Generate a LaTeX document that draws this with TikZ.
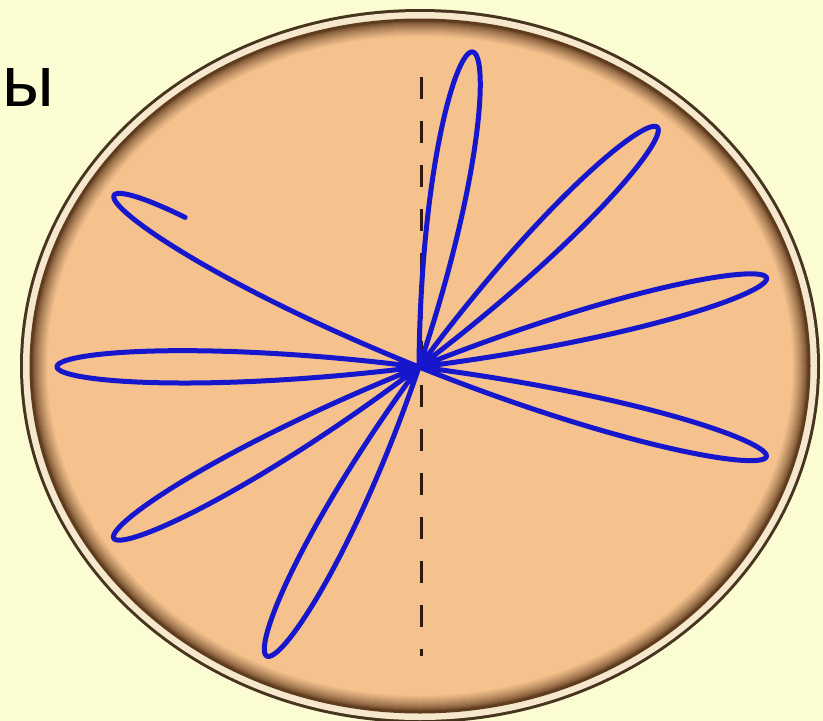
\documentclass[tikz,border=0pt]{standalone}
\usepackage{fontspec}
\setmainfont{Liberation Sans}
\definecolor{bgyellow}{RGB}{252,252,210}
\definecolor{peach}{RGB}{245,194,142}
\definecolor{rimdark}{RGB}{70,52,30}
\definecolor{rimlight}{RGB}{245,232,205}
\definecolor{rimbrown}{RGB}{95,60,30}
\definecolor{pathblue}{RGB}{22,22,205}
\definecolor{dashcol}{RGB}{50,25,15}
\tikzset{
  trajectory/.style={draw=pathblue, line width=5pt, line join=round, line cap=round},
  planeline/.style={draw=dashcol, line width=3pt, dash pattern=on 22pt off 22pt},
  caption/.style={font=\fontsize{72}{72}\selectfont, inner sep=0pt, anchor=base west, text=black}
}
\begin{document}
\begin{tikzpicture}[x=1pt,y=-1pt]
  \useasboundingbox (0,0) rectangle (823,721);
  \fill[bgyellow] (0,0) rectangle (823,721);
  % rim
  \coordinate (c) at (420,366);
  \fill[rimdark] (c) ellipse [x radius=400, y radius=357];
  \fill[rimlight] (c) ellipse [x radius=397, y radius=354];
  \fill[rimbrown] (c) ellipse [x radius=390.5, y radius=347.5];
  \foreach \i in {0,...,16}{
    \pgfmathsetmacro{\mix}{100*(\i/16)^0.7}
    \fill[peach!\mix!rimbrown] (c) ellipse [x radius=388.5-\i, y radius=345.5-\i];
  }
  % dashed initial plane
  \coordinate (ptop) at (421,77);
  \coordinate (pbot) at (421,656);
  \draw[planeline] (ptop) -- (pbot);
  % pendulum trajectory
  \draw[trajectory] plot[domain=-90:1297, samples=1600, smooth, variable=\t]
    ({419 + 362*cos(\t)*cos(81.5-0.0906*\t)}, {367 - 0.88*362*cos(\t)*sin(81.5-0.0906*\t)});
  % text
  \node[caption] (lbl) at (2,106) {ы};
\end{tikzpicture}
\end{document}
